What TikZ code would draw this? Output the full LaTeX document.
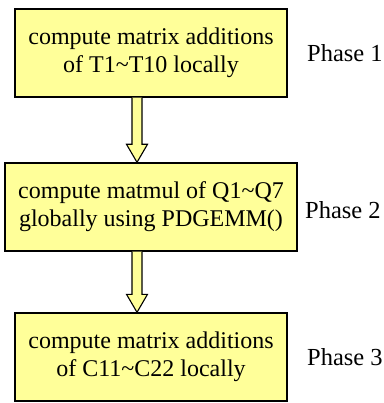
\documentclass[tikz,border=0pt]{standalone}
\usepackage{fontspec}
\setmainfont{Liberation Serif}
\usetikzlibrary{calc}
\definecolor{boxfill}{HTML}{FFFF99}
\begin{document}
\begin{tikzpicture}[x=1pt,y=1pt,
  box/.style={draw=black, line width=1.4pt, fill=boxfill, align=center,
    font=\fontsize{24}{28}\selectfont, inner sep=0pt, minimum height=88},
  phase/.style={font=\fontsize{24.5}{29}\selectfont, anchor=west, inner sep=0pt},
  blockarrow/.style={draw=black, line width=1.1pt, fill=boxfill, line join=miter}]
\useasboundingbox (0,0) rectangle (383,-403);

% the three phase boxes
\node[box, minimum width=272] (b1) at (151,-53)
  {compute matrix additions\\of T1\textasciitilde T10 locally};
\node[box, minimum width=292] (b2) at (151,-207)
  {compute matmul of Q1\textasciitilde Q7\\globally using PDGEMM()};
\node[box, minimum width=272] (b3) at (151,-357)
  {compute matrix additions\\of C11\textasciitilde C22 locally};

% phase labels
\node[phase] (p1) at (307,-53) {Phase 1};
\node[phase] (p2) at (305,-210) {Phase 2};
\node[phase] (p3) at (307,-357) {Phase 3};

% block arrows between the boxes
\coordinate (a1) at ($(b1.south)+(-14,0)$);
\coordinate (t1) at (a1 |- b2.north);
\draw[blockarrow] ($(a1)+(-5,0)$) -- ($(t1)+(-5,18)$) -- ($(t1)+(-10.5,18)$)
  -- (t1) -- ($(t1)+(10.5,18)$) -- ($(t1)+(5,18)$) -- ($(a1)+(5,0)$);
\coordinate (a2) at ($(b2.south)+(-14,0)$);
\coordinate (t2) at (a2 |- b3.north);
\draw[blockarrow] ($(a2)+(-5,0)$) -- ($(t2)+(-5,18)$) -- ($(t2)+(-10.5,18)$)
  -- (t2) -- ($(t2)+(10.5,18)$) -- ($(t2)+(5,18)$) -- ($(a2)+(5,0)$);
\end{tikzpicture}
\end{document}
